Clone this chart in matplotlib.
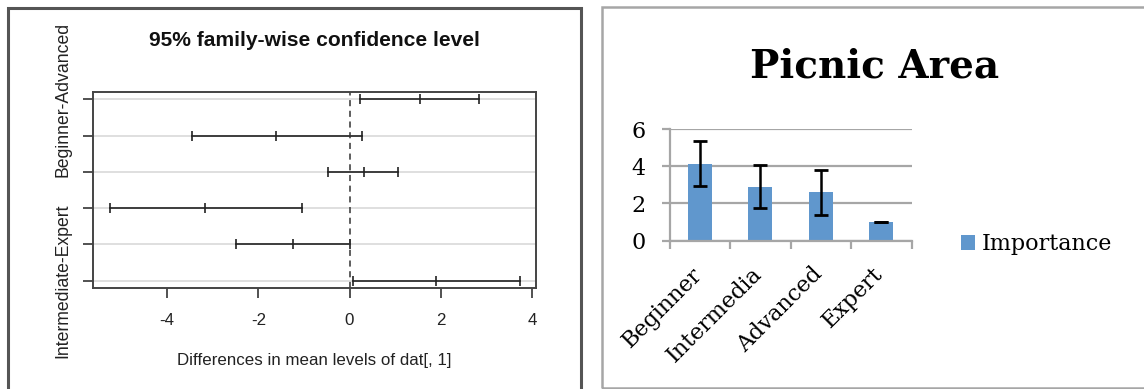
import matplotlib
matplotlib.use("Agg")
import matplotlib.pyplot as plt
from matplotlib.patches import Rectangle
from matplotlib.transforms import ScaledTranslation

W, H = 1144, 389

# Tukey HSD intervals, top row first
pair_labels = ["Beginner-Advanced", "", "", "", "", "Intermediate-Expert"]
diffs = [1.54, -1.61, 0.31, -3.16, -1.24, 1.89]
lowers = [0.24, -3.46, -0.47, -5.26, -2.49, 0.07]
uppers = [2.85, 0.27, 1.07, -1.05, 0.00, 3.73]
tukey_xticks = [-4, -2, 0, 2, 4]

# Picnic area bar chart
levels = ["Beginner", "Intermedia", "Advanced", "Expert"]
importance = [4.13, 2.90, 2.60, 1.00]
importance_err = [1.21, 1.15, 1.22, 0.02]
bar_yticks = [0, 2, 4, 6]


def px_rect(left, top, right, bottom):
    return [left / W, (H - bottom) / H, (right - left) / W, (bottom - top) / H]


fig = plt.figure(figsize=(W / 100, H / 100), dpi=100)

# panel borders
fig.add_artist(Rectangle((7.5 / W, -0.05), (580.5 - 7.5) / W, (H - 7.5) / H + 0.05,
                         transform=fig.transFigure, fill=False, edgecolor="#555555", linewidth=2.2))
fig.add_artist(Rectangle((601.5 / W, 1.5 / H), (W + 20 - 601.5) / W, (H - 8.5) / H,
                         transform=fig.transFigure, fill=False, edgecolor="#a6a6a6", linewidth=1.8))

# ---- left: TukeyHSD plot ----
sans = "Liberation Sans"
ax = fig.add_axes(px_rect(93.3, 92, 536, 288))
n = len(diffs)
rows = list(range(n, 0, -1))
for y in rows:
    ax.axhline(y, color="#d9d9d9", linewidth=1.2, zorder=0)
for y, lo, d, hi in zip(rows, lowers, diffs, uppers):
    ax.plot([lo, hi], [y, y], color="#222222", linewidth=1.2)
    ax.plot([lo, d, hi], [y, y, y], linestyle="none", marker="|", markersize=7,
            markeredgewidth=1.2, color="#222222")
ax.axvline(0, color="#333333", linestyle=(0, (4, 3)), linewidth=1.1)
span = max(uppers) - min(lowers)
ax.set_xlim(min(lowers) - 0.04 * span, max(uppers) + 0.04 * span)
ax.set_ylim(1 - 0.04 * (n - 1), n + 0.04 * (n - 1))
ax.set_xticks(tukey_xticks)
ax.set_xticklabels([str(t) for t in tukey_xticks], family=sans, fontsize=12.2, color="#222222")
ax.set_yticks(rows)
ax.set_yticklabels(pair_labels, rotation=90, va="center", family=sans, fontsize=12.7, color="#222222")
ax.tick_params(axis="x", length=7, width=1.2, pad=11, color="#333333")
ax.tick_params(axis="y", length=7.5, width=1.2, pad=8, color="#333333")
for s in ax.spines.values():
    s.set_color("#444444")
    s.set_linewidth(1.4)
ax.set_xlabel("Differences in mean levels of dat[, 1]", family=sans, fontsize=12.2,
              color="#222222", labelpad=18)
fig.text(314 / W, 1 - 40 / H, "95% family-wise confidence level", family=sans,
         fontsize=15.1, fontweight="bold", ha="center", va="center", color="#111111")

# ---- right: Picnic Area bars ----
serif = "DejaVu Serif"
bx = fig.add_axes(px_rect(669.5, 129, 911.5, 240.7))
pos = list(range(len(levels)))
bx.bar(pos, importance, width=0.4, color="#6097cd", zorder=2, label="Importance")
bx.errorbar(pos, importance, yerr=importance_err, fmt="none", ecolor="black",
            elinewidth=1.8, capsize=5, capthick=2, zorder=3)
bx.set_xlim(-0.5, len(levels) - 0.5)
bx.set_ylim(0, 6)
bx.set_yticks(bar_yticks)
bx.set_yticklabels([str(t) for t in bar_yticks], family=serif, fontsize=16)
bx.yaxis.grid(True, color="#a6a6a6", linewidth=1.6, zorder=0)
bx.set_axisbelow(True)
bx.tick_params(axis="y", length=6, width=1.6, color="#a6a6a6", pad=11)
bx.set_xticks([p - 0.5 for p in pos] + [len(levels) - 0.5], minor=True)
bx.tick_params(axis="x", which="minor", length=6, width=1.6, color="#a6a6a6")
bx.set_xticks(pos)
bx.set_xticklabels(levels, rotation=45, ha="right", va="top", rotation_mode="anchor",
                   family=serif, fontsize=16)
bx.tick_params(axis="x", which="major", length=0, pad=14)
shift = ScaledTranslation(-9 / 100, -3 / 100, fig.dpi_scale_trans)
for lab in bx.get_xticklabels():
    lab.set_transform(lab.get_transform() + shift)
for name in ["top", "right"]:
    bx.spines[name].set_visible(False)
for name in ["left", "bottom"]:
    bx.spines[name].set_color("#a6a6a6")
    bx.spines[name].set_linewidth(1.6)
bx.legend(loc="center left", bbox_to_anchor=((952 - 669.5) / 242, -3.5 / 111.7),
          frameon=False, prop={"family": serif, "size": 16},
          handlelength=0.65, handleheight=0.65, handletextpad=0.3, borderaxespad=0)
fig.text(875 / W, 1 - 66 / H, "Picnic Area", family=serif, fontsize=28,
         fontweight="bold", ha="center", va="center")

fig.savefig("out.png", dpi=100)
